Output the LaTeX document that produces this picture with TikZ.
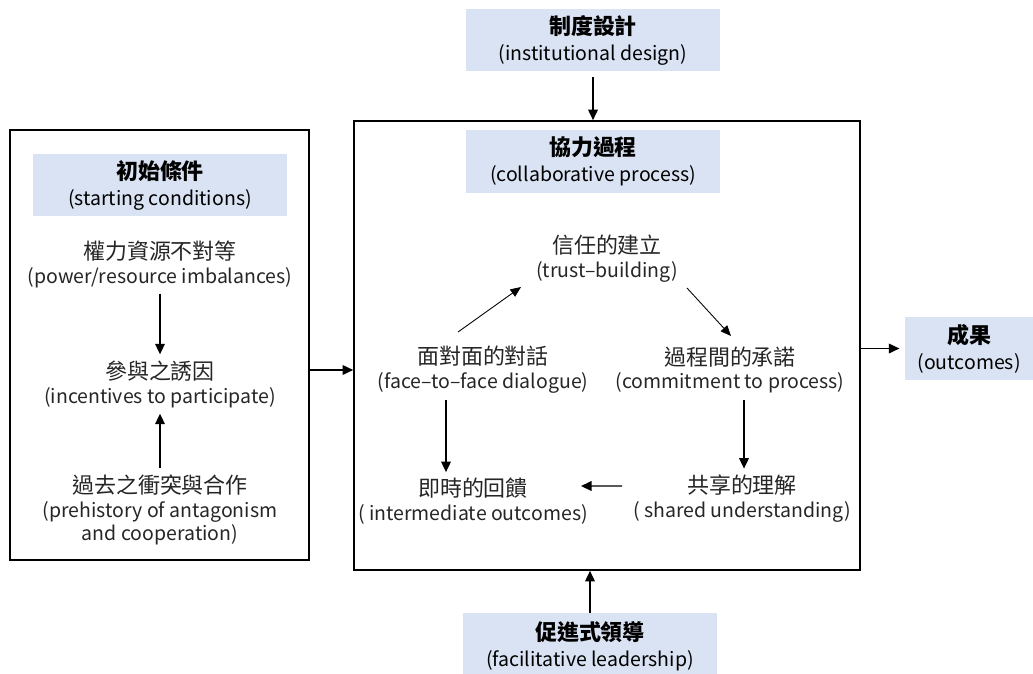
\documentclass[tikz,border=0pt]{standalone}
\usepackage{fontspec}
\setmainfont{Noto Sans CJK TC}
\usetikzlibrary{arrows.meta, positioning, calc}
\definecolor{headblue}{RGB}{218,227,243}
\newcommand{\hanzi}[1]{{\fontsize{12.5}{13.6}\selectfont #1}}
\tikzset{
    head/.style={
        rectangle,
        fill=headblue,
        draw=none,
        minimum width=5.08cm,
        minimum height=1.26cm,
        align=center,
        font=\fontsize{11.1}{14.8}\selectfont
    },
    cond/.style={
        rectangle,
        draw=none,
        align=center,
        text=black!85,
        font=\fontsize{11.1}{13.6}\selectfont
    },
    outerbox/.style={
        rectangle,
        draw=black,
        line width=1pt
    },
    arrow/.style={
        line width=0.8pt,
        -{Triangle[length=6pt,width=5.5pt]}
    },
    thinarrow/.style={
        line width=0.5pt,
        -{Triangle[length=6pt,width=5pt]}
    },
}
\begin{document}
\begin{tikzpicture}[x=0.02cm, y=-0.02cm]
\useasboundingbox[fill=white] (0,0) rectangle (1033,673);

% Starting conditions
\node[outerbox, minimum width=5.98cm, minimum height=8.6cm] (startbox) at (159.5,345) {};
\node[head] (starthead) at (160,185) {\hanzi{\textbf{初始條件}}\\(starting conditions)};
\node[cond] (power) at (160,264) {\hanzi{權力資源不對等}\\(power/resource imbalances)};
\node[cond] (incent) at (160,384) {\hanzi{參與之誘因}\\(incentives to participate)};
\node[cond] (prehist) at (160,510) {\hanzi{過去之衝突與合作}\\(prehistory of antagonism\\and cooperation)};

% Collaborative process
\node[outerbox, minimum width=10.12cm, minimum height=8.98cm] (main) at (607,345.5) {};
\node[head] (prochead) at (593,161.5) {\hanzi{\textbf{協力過程}}\\(collaborative process)};
\node[cond] (trust) at (607,258.5) {\hanzi{信任的建立}\\(trust–building)};
\node[cond] (face) at (483,370) {\hanzi{面對面的對話}\\(face–to–face dialogue)};
\node[cond] (commit) at (730,370) {\hanzi{過程間的承諾}\\(commitment to process)};
\node[cond] (feedback) at (473,501.5) {\hanzi{即時的回饋}\\( intermediate outcomes)};
\node[cond] (shared) at (742,498.5) {\hanzi{共享的理解}\\( shared understanding)};

% Outside factors
\node[head] (design) at (593,40) {\hanzi{\textbf{制度設計}}\\(institutional design)};
\node[head, minimum width=2.56cm] (outcome) at (969,348.5) {\hanzi{\textbf{成果}}\\(outcomes)};
\node[head, minimum height=1.32cm] (leader) at (590,646) {\hanzi{\textbf{促進式領導}}\\(facilitative leadership)};

% Arrows in starting conditions
\draw[arrow] (power) -- (incent);
\draw[arrow] (prehist) -- (incent);
\draw[arrow] ([yshift=-0.5cm]startbox.east) -- ([yshift=-0.5cm]startbox.east -| main.west);

% Arrows to and from the process
\draw[arrow, shorten <=3pt] (design.south) -- (design.south |- main.north);
\draw[arrow, shorten >=3pt] (main.east |- outcome) -- (outcome.west);
\draw[arrow] (leader.north) -- (leader.north |- main.south);

% Cycle inside the process
\draw[thinarrow] ([shift={(-0.5cm,0.76cm)}]face.center) -- ([shift={(-1.72cm,-0.57cm)}]trust.center);
\draw[thinarrow] ([shift={(1.6cm,-0.59cm)}]trust.center) -- ([shift={(0.02cm,0.68cm)}]commit.center);
\draw[arrow] ([xshift=-0.74cm]face.south) -- ([xshift=-0.74cm]face.south |- feedback.north);
\draw[arrow] ([xshift=0.28cm]commit.south) -- ([xshift=0.28cm]commit.south |- shared.north);
\draw[arrow] ([shift={(-2.4cm,0.25cm)}]shared.center) -- ([shift={(2.16cm,0.31cm)}]feedback.center);

\end{tikzpicture}
\end{document}
